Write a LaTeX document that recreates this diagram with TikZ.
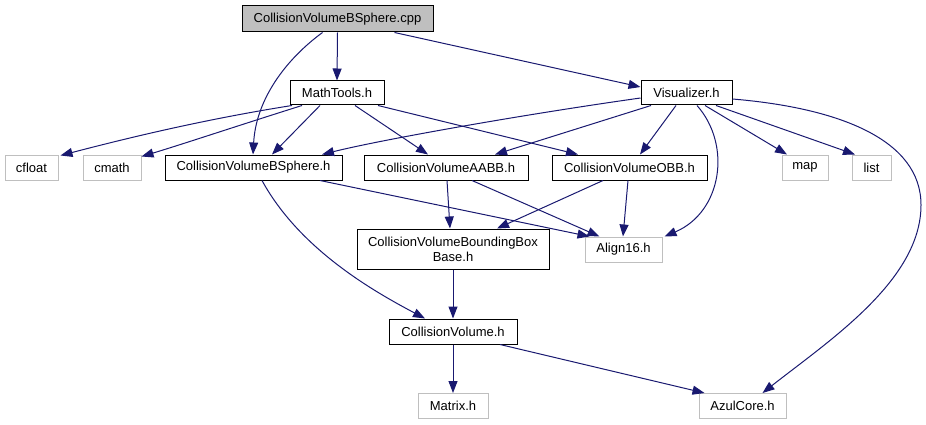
\documentclass[tikz,border=0pt]{standalone}
\usepackage{fontspec}
\setmainfont{Liberation Sans}
\usetikzlibrary{arrows.meta,calc}
\definecolor{edgec}{RGB}{25,25,112}
\definecolor{extc}{RGB}{191,191,191}
\definecolor{cppfill}{RGB}{191,191,191}
\begin{document}
\begin{tikzpicture}[x=1pt,y=-1pt,
  box/.style={draw=black, fill=white, inner sep=0pt, line width=1pt, align=center,
    font=\fontsize{13}{15}\selectfont, minimum height=25pt},
  ext/.style={box, draw=extc},
  e/.style={draw=edgec, line width=1pt, -{Triangle[length=12pt,width=9pt]}}]
\useasboundingbox (0,0) rectangle (926,425);
\node[box, fill=cppfill, minimum width=191pt, minimum height=26pt] (cpp) at (337.5,19) {CollisionVolumeBSphere.cpp};
\node[box, minimum width=94pt, minimum height=24pt] (mt) at (337,93) {MathTools.h};
\node[box, minimum width=91pt, minimum height=24pt] (vis) at (686.5,93) {Visualizer.h};
\node[ext, minimum width=53pt] (cfloat) at (31.5,167.5) {cfloat};
\node[ext, minimum width=58pt] (cmath) at (112,167.5) {cmath};
\node[box, minimum width=177pt] (bsh) at (253.5,167.5) {CollisionVolumeBSphere.h};
\node[box, minimum width=164pt] (aabb) at (446,167.5) {CollisionVolumeAABB.h};
\node[box, minimum width=155pt] (obb) at (629.5,167.5) {CollisionVolumeOBB.h};
\node[ext, minimum width=46pt] (map) at (805,167.5) {map};
\node[ext, minimum width=39pt] (list) at (871.5,167.5) {list};
\node[box, minimum width=192pt, minimum height=40pt] (bbb) at (453,249) {CollisionVolumeBoundingBox\\Base.h};
\node[ext, minimum width=77pt] (al) at (623.5,249.5) {Align16.h};
\node[box, minimum width=128pt] (cv) at (453,331.5) {CollisionVolume.h};
\node[ext, minimum width=70pt] (mat) at (453,406) {Matrix.h};
\node[ext, minimum width=87pt] (azul) at (742.5,406) {AzulCore.h};

% from cpp
\draw[e] (cpp.south) -- (mt.north);
\draw[e] ($(cpp.south)+(-15,0)$) .. controls (285,60) and (256,100) .. ($(bsh.north)+(-0.5,0)$);
\draw[e] ($(cpp.south)+(57,0)$) -- ($(vis.west)+(0,-6)$);
% from MathTools
\draw[e] ($(mt.south)+(-45,0)$) .. controls (200,120) and (120,140) .. ($(cfloat.north east)+(2,1)$);
\draw[e] ($(mt.south)+(-35,0)$) .. controls (240,125) and (180,145) .. ($(cmath.north east)+(0,2)$);
\draw[e] ($(mt.south)+(-17,0)$) -- ($(bsh.north)+(18.5,0)$);
\draw[e] ($(mt.south)+(18,0)$) -- ($(aabb.north)+(-18,0)$);
\draw[e] ($(mt.south)+(41,0)$) -- ($(obb.north)+(-51.5,0)$);
% from Visualizer
\draw[e] ($(vis.west)+(0,5)$) .. controls (520,115) and (380,140) .. ($(bsh.north)+(68.5,0)$);
\draw[e] ($(vis.south)+(-35.5,0)$) -- ($(aabb.north)+(49,0)$);
\draw[e] ($(vis.south)+(-10.5,0)$) -- ($(obb.north)+(10.5,0)$);
\draw[e] ($(vis.south)+(10.5,0)$) .. controls (732,145) and (722,212) .. ($(al.north east)+(2,0)$);
\draw[e] ($(vis.south)+(18.5,0)$) -- ($(map.north)+(-18,0)$);
\draw[e] ($(vis.south)+(29.5,0)$) -- ($(list.north)+(-16.5,0)$);
\draw[e] ($(vis.east)+(0,6)$) .. controls (840,108) and (921,140) .. (921,205)
  .. controls (921,280) and (830,340) .. ($(azul.north)+(20,0)$);
% from BSphere.h
\draw[e] ($(bsh.south)+(66.5,0)$) -- ($(al.north west)+(5,0)$);
\draw[e] ($(bsh.south)+(8.5,0)$) .. controls (300,250) and (375,292) .. ($(cv.north)+(-28,0)$);
% from AABB
\draw[e] ($(aabb.south)+(1,0)$) -- ($(bbb.north)+(-3,0)$);
\draw[e] ($(aabb.south)+(26,0)$) -- ($(al.north west)+(15,0)$);
% from OBB
\draw[e] ($(obb.south)+(-26.5,0)$) -- ($(bbb.north)+(44,0)$);
\draw[e] ($(obb.south)+(-1.5,0)$) -- ($(al.north)+(-0.5,0)$);
% lower
\draw[e] (bbb.south) -- (cv.north);
\draw[e] (cv.south) -- (mat.north);
\draw[e] ($(cv.south)+(47,0)$) -- ($(azul.north)+(-38,0)$);
\end{tikzpicture}
\end{document}
